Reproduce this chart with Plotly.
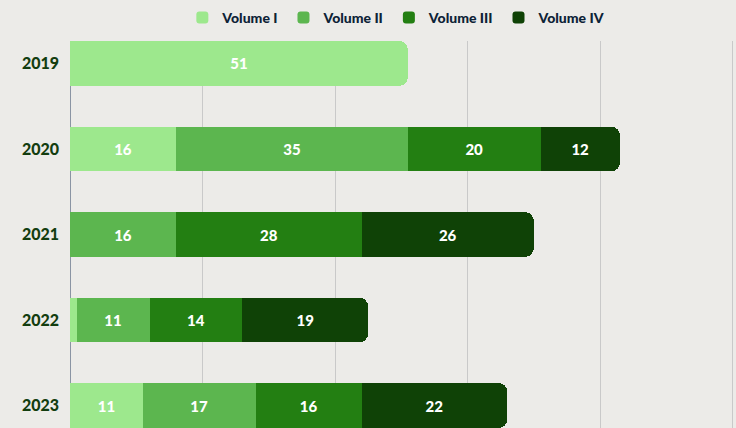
import plotly.graph_objects as go

# data
years = ["2019", "2020", "2021", "2022", "2023"]
vol_1 = [51, 16, None, 1, 11]
vol_2 = [None, 35, 16, 11, 17]
vol_3 = [None, 20, 28, 14, 16]
vol_4 = [None, 12, 26, 19, 22]

series_names = ["Volume I", "Volume II", "Volume III", "Volume IV"]
series_vals = [vol_1, vol_2, vol_3, vol_4]
colors = ["#9de88d", "#5cb64f", "#237f12", "#0f4206"]

FONT = "Lato"

fig = go.Figure()
for name, vals, col in zip(series_names, series_vals, colors):
    fig.add_trace(go.Bar(
        y=years, x=vals, name=name, orientation="h",
        marker=dict(color=col, line=dict(width=0)),
        text=vals, textposition="inside", insidetextanchor="middle",
        textfont=dict(family=FONT, size=15, color="white", weight=900),
        hoverinfo="x+name",
    ))

fig.update_layout(
    barmode="stack",
    bargap=0.474,
    barcornerradius=9,
    width=736, height=428,
    margin=dict(l=70, r=0, t=41, b=0),
    paper_bgcolor="#ecebe8",
    plot_bgcolor="#ecebe8",
    uniformtext=dict(minsize=14, mode="hide"),
    showlegend=True,
    legend=dict(
        orientation="h", traceorder="normal",
        x=0.49, xanchor="center", y=1.06, yanchor="middle",
        font=dict(family=FONT, size=14, color="#0d2236", weight=900),
        itemwidth=30, bgcolor="rgba(0,0,0,0)",
    ),
)
fig.update_xaxes(
    range=[0, 100.5], dtick=20, showticklabels=False,
    showgrid=True, gridcolor="#c9c9c9", gridwidth=1,
    zeroline=True, zerolinecolor="#8a94a3", zerolinewidth=1,
)
fig.update_yaxes(
    type="category", range=[4.263, -0.263],
    showgrid=False, ticks="", ticklabelstandoff=10,
    tickfont=dict(family=FONT, size=16, color="#133d0f", weight=900),
)

# drop the default page margin so the figure sits at the window corner
fig.write_html("out.html", config={"displayModeBar": False},
               post_script="document.body.style.margin='0';")
